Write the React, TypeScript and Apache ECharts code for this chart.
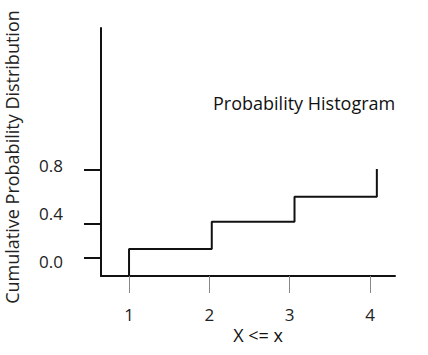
import React, { useEffect, useRef } from "react";
import * as echarts from "echarts";

// Data
const xTickValues = [1, 2, 3, 4];
const stepX = [1, 2.03, 3.06, 4.085];
const cumulative = [0.108, 0.336, 0.544, 0.775];
const yLabelValues = [0, 0.4, 0.8];
const yTickValues = [0.033, 0.317, 0.767];
const X_MIN = 0.651;
const X_MAX = 4.311;
const Y_MIN = -0.117;
const Y_MAX = 1.95;

const FONT = "'Open Sans', sans-serif";

export default function App() {
  const ref = useRef<HTMLDivElement>(null);
  useEffect(() => {
    if (!ref.current) return;
    const chart = echarts.init(ref.current, null, { renderer: "svg" });
    const points: [number, number][] = [[stepX[0], Y_MIN]];
    stepX.forEach((x, i) => points.push([x, cumulative[i]]));
    chart.setOption({
      animation: false,
      backgroundColor: "#ffffff",
      grid: { left: 101, right: 33, top: 28, bottom: 79 },
      xAxis: {
        type: "value",
        min: X_MIN,
        max: X_MAX,
        axisLine: { show: true, onZero: false, lineStyle: { color: "#111", width: 2 } },
        axisTick: {
          show: true,
          customValues: xTickValues,
          length: 17,
          lineStyle: { color: "#888", width: 1 },
        },
        axisLabel: {
          customValues: xTickValues,
          margin: 30,
          fontFamily: FONT,
          fontSize: 17,
          color: "#222",
        },
        splitLine: { show: false },
      },
      yAxis: {
        type: "value",
        min: Y_MIN,
        max: Y_MAX,
        axisLine: { show: true, onZero: false, lineStyle: { color: "#111", width: 2 } },
        axisTick: {
          show: true,
          customValues: yTickValues,
          length: 17,
          lineStyle: { color: "#111", width: 2 },
        },
        axisLabel: {
          customValues: yLabelValues,
          margin: 38,
          fontFamily: FONT,
          fontSize: 17,
          color: "#222",
          formatter: (v: number) => v.toFixed(1),
        },
        splitLine: { show: false },
      },
      graphic: [
        {
          type: "text",
          x: 213,
          y: 103,
          style: {
            text: "Probability Histogram",
            font: `18px ${FONT}`,
            fill: "#111",
            textAlign: "left",
            textVerticalAlign: "middle",
          },
        },
        {
          type: "text",
          x: 258,
          y: 335,
          style: {
            text: "X <= x",
            font: `18px ${FONT}`,
            fill: "#111",
            textAlign: "center",
            textVerticalAlign: "middle",
          },
        },
        {
          type: "text",
          x: 12,
          y: 157,
          rotation: Math.PI / 2,
          style: {
            text: "Cumulative Probability Distribution",
            font: `18px ${FONT}`,
            fill: "#222",
            textAlign: "center",
            textVerticalAlign: "middle",
          },
        },
      ],
      series: [
        {
          type: "line",
          step: "end",
          data: points,
          symbol: "none",
          lineStyle: { color: "#111", width: 2 },
        },
      ],
    });
    return () => chart.dispose();
  }, []);
  return <div ref={ref} style={{ width: 428, height: 355, position: "absolute", left: 0, top: 0 }} />;
}
